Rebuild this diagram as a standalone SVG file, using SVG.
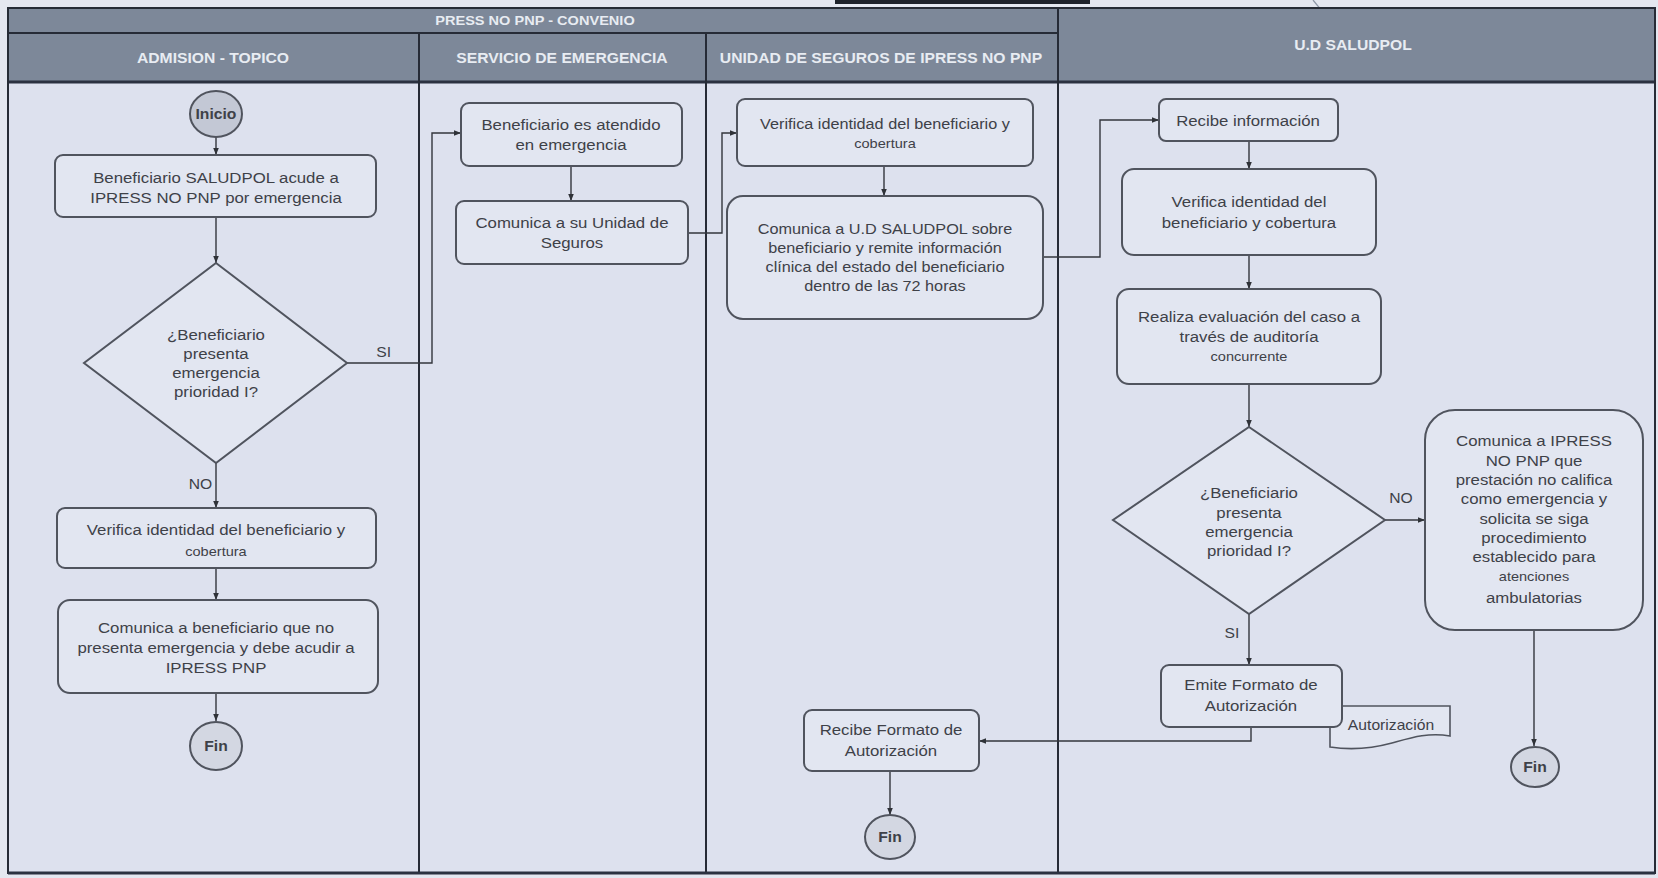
<svg xmlns="http://www.w3.org/2000/svg" width="1658" height="878" viewBox="0 0 1658 878">
  <defs>
    <marker id="arr" viewBox="0 0 10 10" refX="10" refY="5" markerWidth="7" markerHeight="7" orient="auto" markerUnits="userSpaceOnUse">
      <path d="M0,1 L10,5 L0,9 Z" fill="#2f3238"/>
    </marker>
    <style>
      .page{fill:#e4e7f0}
      .body{fill:#dde1ee}
      .hdr{fill:#7d8899}
      .hdr-t{font-family:"Liberation Sans",Arial,sans-serif;font-weight:bold;font-size:14px;fill:#e8ecf2;text-anchor:middle}
      .sep{stroke:#262b36;stroke-width:2;fill:none}
      .sep-hd{stroke:#2b3140;stroke-width:3;fill:none}
      .box{fill:#e2e6f1;stroke:#50545e;stroke-width:2}
      .term{fill:#d3d7e2;stroke:#50545e;stroke-width:2}
      .start{fill:#c3c8d5;stroke:#50545e;stroke-width:2}
      .t{font-family:"Liberation Sans",Arial,sans-serif;font-size:15px;fill:#3e4148;text-anchor:middle}
      .s{font-size:13px}
      .m{font-size:14.5px}
      .b{font-weight:bold}
      .lbl{font-family:"Liberation Sans",Arial,sans-serif;font-size:14px;fill:#3e4148}
      .conn{stroke:#33363d;stroke-width:1.4;fill:none}
      .arrow{marker-end:url(#arr)}
      text{transform-box:fill-box;transform-origin:center;transform:scaleX(1.12)}
    </style>
  </defs>

  <!-- page and swimlane frame -->
  <rect class="page" x="0" y="0" width="1658" height="878"/>
  <rect x="835" y="0" width="255" height="4" fill="#1e222b"/>
  <line x1="1313" y1="0" x2="1331" y2="22" stroke="#8d96a6" stroke-width="1.2"/>
  <rect class="body" x="8" y="82" width="1647" height="791"/>
  <rect class="hdr" x="8" y="8" width="1647" height="74"/>

  <g id="headers">
    <text class="hdr-t" x="535" y="25" style="font-size:13px">PRESS NO PNP - CONVENIO</text>
    <text class="hdr-t" x="213" y="63">ADMISION - TOPICO</text>
    <text class="hdr-t" x="562" y="63">SERVICIO DE EMERGENCIA</text>
    <text class="hdr-t" x="881" y="63">UNIDAD DE SEGUROS DE IPRESS NO PNP</text>
    <text class="hdr-t" x="1353" y="50">U.D SALUDPOL</text>
  </g>

  <g id="lanes">
    <line class="sep" x1="8" y1="33" x2="1058" y2="33"/>
    <line class="sep-hd" x1="8" y1="82" x2="1655" y2="82"/>
    <line class="sep" x1="419" y1="33" x2="419" y2="873"/>
    <line class="sep" x1="706" y1="33" x2="706" y2="873"/>
    <line class="sep" x1="1058" y1="8" x2="1058" y2="873"/>
    <rect x="8" y="8" width="1647" height="865" fill="none" stroke="#262b36" stroke-width="2"/>
    <line class="sep-hd" x1="8" y1="873" x2="1655" y2="873"/>
  </g>

  <!-- connectors -->
  <g id="connectors">
    <path class="conn arrow" d="M216,137 V155"/>
    <path class="conn arrow" d="M216,217 V263"/>
    <path class="conn arrow" d="M347,363 H432 V133 H461"/>
    <path class="conn arrow" d="M216,463 V508"/>
    <path class="conn arrow" d="M216,568 V600"/>
    <path class="conn arrow" d="M216,693 V721"/>
    <path class="conn arrow" d="M571,166 V201"/>
    <path class="conn arrow" d="M688,233 H722 V133 H737"/>
    <path class="conn arrow" d="M884,166 V196"/>
    <path class="conn arrow" d="M1043,257 H1100 V120 H1159"/>
    <path class="conn arrow" d="M1249,141 V169"/>
    <path class="conn arrow" d="M1249,255 V289"/>
    <path class="conn arrow" d="M1249,384 V427"/>
    <path class="conn arrow" d="M1385,520 H1425"/>
    <path class="conn arrow" d="M1249,614 V665"/>
    <path class="conn arrow" d="M1251,727 V741 H979"/>
    <path class="conn arrow" d="M890,771 V815"/>
    <path class="conn arrow" d="M1534,630 V746"/>
    <text class="lbl" x="377" y="357">SI</text>
    <text class="lbl" x="211" y="489" text-anchor="end">NO</text>
    <text class="lbl" x="1401" y="503" text-anchor="middle">NO</text>
    <text class="lbl" x="1232" y="638" text-anchor="middle">SI</text>
  </g>

  <!-- ADMISION - TOPICO -->
  <g id="inicio">
    <ellipse class="start" cx="216" cy="114" rx="26" ry="23"/>
    <text class="t b" x="216" y="119" style="font-size:14px">Inicio</text>
  </g>
  <g id="acude">
    <rect class="box" x="55" y="155" width="321" height="62" rx="8"/>
    <text class="t" x="216" y="183">Beneficiario SALUDPOL acude a</text>
    <text class="t" x="216" y="203">IPRESS NO PNP por emergencia</text>
  </g>
  <g id="decision-admision">
    <polygon class="box" points="216,263 347,363 216,463 84,363"/>
    <text class="t" x="216" y="340">¿Beneficiario</text>
    <text class="t" x="216" y="359">presenta</text>
    <text class="t" x="216" y="378">emergencia</text>
    <text class="t" x="216" y="397">prioridad I?</text>
  </g>
  <g id="verifica-admision">
    <rect class="box" x="57" y="508" width="319" height="60" rx="8"/>
    <text class="t" x="216" y="535">Verifica identidad  del beneficiario y</text>
    <text class="t s" x="216" y="556">cobertura</text>
  </g>
  <g id="comunica-beneficiario">
    <rect class="box" x="58" y="600" width="320" height="93" rx="12"/>
    <text class="t" x="216" y="633">Comunica a beneficiario que no</text>
    <text class="t" x="216" y="653">presenta emergencia y debe acudir a</text>
    <text class="t" x="216" y="673">IPRESS PNP</text>
  </g>
  <g id="fin-admision">
    <ellipse class="term" cx="216" cy="746" rx="26" ry="24"/>
    <text class="t b" x="216" y="751" style="font-size:14px">Fin</text>
  </g>

  <!-- SERVICIO DE EMERGENCIA -->
  <g id="atendido">
    <rect class="box" x="461" y="103" width="221" height="63" rx="8"/>
    <text class="t" x="571" y="130">Beneficiario es atendido</text>
    <text class="t" x="571" y="150">en emergencia</text>
  </g>
  <g id="comunica-unidad">
    <rect class="box" x="456" y="201" width="232" height="63" rx="8"/>
    <text class="t" x="572" y="228">Comunica a su Unidad de</text>
    <text class="t" x="572" y="248">Seguros</text>
  </g>

  <!-- UNIDAD DE SEGUROS DE IPRESS NO PNP -->
  <g id="verifica-seguros">
    <rect class="box" x="737" y="99" width="296" height="67" rx="8"/>
    <text class="t m" x="885" y="129">Verifica identidad del beneficiario y</text>
    <text class="t s" x="885" y="148">cobertura</text>
  </g>
  <g id="comunica-ud">
    <rect class="box" x="727" y="196" width="316" height="123" rx="16"/>
    <text class="t m" x="885" y="234">Comunica a U.D SALUDPOL sobre</text>
    <text class="t m" x="885" y="253">beneficiario y remite información</text>
    <text class="t m" x="885" y="272">clínica del estado del beneficiario</text>
    <text class="t m" x="885" y="291">dentro de las 72 horas</text>
  </g>
  <g id="recibe-formato">
    <rect class="box" x="804" y="710" width="175" height="61" rx="8"/>
    <text class="t" x="891" y="735">Recibe Formato de</text>
    <text class="t" x="891" y="756">Autorización</text>
  </g>
  <g id="fin-seguros">
    <ellipse class="term" cx="890" cy="837" rx="25" ry="22"/>
    <text class="t b" x="890" y="842" style="font-size:14px">Fin</text>
  </g>

  <!-- U.D SALUDPOL -->
  <g id="recibe-info">
    <rect class="box" x="1159" y="99" width="179" height="42" rx="7"/>
    <text class="t" x="1248" y="126">Recibe información</text>
  </g>
  <g id="verifica-ud">
    <rect class="box" x="1122" y="169" width="254" height="86" rx="12"/>
    <text class="t" x="1249" y="207">Verifica identidad  del</text>
    <text class="t" x="1249" y="228">beneficiario y  cobertura</text>
  </g>
  <g id="evaluacion">
    <rect class="box" x="1117" y="289" width="264" height="95" rx="12"/>
    <text class="t" x="1249" y="322">Realiza evaluación del caso a</text>
    <text class="t" x="1249" y="342">través de auditoría</text>
    <text class="t s" x="1249" y="361">concurrente</text>
  </g>
  <g id="decision-ud">
    <polygon class="box" points="1249,427 1385,520 1249,614 1113,520"/>
    <text class="t" x="1249" y="498">¿Beneficiario</text>
    <text class="t" x="1249" y="518">presenta</text>
    <text class="t" x="1249" y="537">emergencia</text>
    <text class="t" x="1249" y="556">prioridad I?</text>
  </g>
  <g id="no-califica">
    <rect class="box" x="1425" y="410" width="218" height="220" rx="30"/>
    <text class="t" x="1534" y="446">Comunica a IPRESS</text>
    <text class="t" x="1534" y="466">NO PNP que</text>
    <text class="t" x="1534" y="485">prestación no califica</text>
    <text class="t" x="1534" y="504">como emergencia y</text>
    <text class="t" x="1534" y="524">solicita se siga</text>
    <text class="t" x="1534" y="543">procedimiento</text>
    <text class="t" x="1534" y="562">establecido  para</text>
    <text class="t s" x="1534" y="581">atenciones</text>
    <text class="t" x="1534" y="603">ambulatorias</text>
  </g>
  <g id="documento-autorizacion">
    <path class="box" d="M1330,706 H1450 V736 C1428,732 1410,738 1392,743 C1370,749 1350,750 1330,747 Z" style="stroke-width:1.6"/>
    <text class="t" x="1391" y="730" style="font-size:14px">Autorización</text>
  </g>
  <g id="emite">
    <rect class="box" x="1161" y="665" width="181" height="62" rx="8"/>
    <text class="t" x="1251" y="690">Emite Formato de</text>
    <text class="t" x="1251" y="711">Autorización</text>
  </g>
  <g id="fin-ud">
    <ellipse class="term" cx="1535" cy="767" rx="24" ry="20"/>
    <text class="t b" x="1535" y="772" style="font-size:14px">Fin</text>
  </g>
</svg>
